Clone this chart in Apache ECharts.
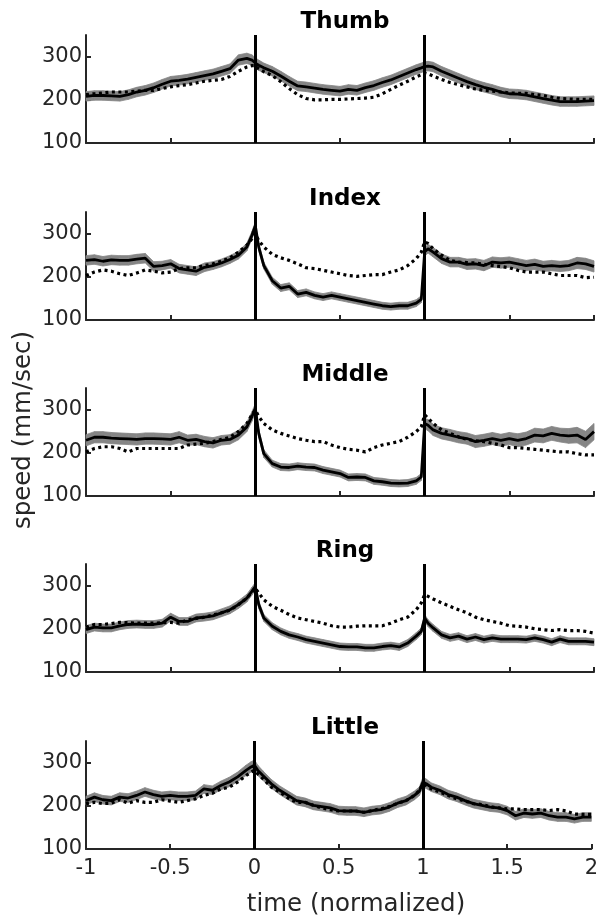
<!DOCTYPE html>
<html>
<head>
<meta charset="utf-8">
<script src="https://cdn.jsdelivr.net/npm/echarts@6/dist/echarts.min.js"></script>
<style>
html,body{margin:0;padding:0;background:#fff;}
#chart{width:601px;height:920px;}
</style>
</head>
<body>
<div id="chart"></div>
<script>
// ---- data ----
const fingers = ['Thumb', 'Index', 'Middle', 'Ring', 'Little'];
const times = [-1,-0.95,-0.9,-0.85,-0.8,-0.75,-0.7,-0.65,-0.6,-0.55,-0.5,-0.45,-0.4,-0.35,-0.3,-0.25,-0.2,-0.15,-0.1,-0.05,
  -0.02,0,0.02,
  0.05,0.1,0.15,0.2,0.25,0.3,0.35,0.4,0.45,0.5,0.55,0.6,0.65,0.7,0.75,0.8,0.85,0.9,0.95,
  0.98,1,1.02,
  1.05,1.1,1.15,1.2,1.25,1.3,1.35,1.4,1.45,1.5,1.55,1.6,1.65,1.7,1.75,1.8,1.85,1.9,1.95,2];
const xTicks = [-1, -0.5, 0, 0.5, 1, 1.5, 2];
const yTicks = [100, 200, 300];
const eventTimes = [0, 1];

const thumbMean = [208,210,210,209,208,212,218,222,228,236,243,245,248,252,256,260,266,272,292,296,
  292,285,280,
  274,266,255,243,232,230,227,224,222,220,224,222,228,233,240,246,254,262,270,
  274,277,278,
  276,266,258,250,242,235,229,224,218,214,213,211,207,203,199,196,196,196,197,198];
const thumbDot = [212,214,216,218,218,218,220,222,222,226,230,233,235,239,243,245,247,254,266,276,
  279,279,272,
  265,256,242,226,212,203,200,200,201,201,202,203,204,206,214,224,234,243,253,
  258,262,260,
  255,247,240,235,230,225,222,220,218,216,215,215,212,210,206,203,202,201,201,201];
const thumbSE = [11,11,11,11,11,11,11,11,11,11,11,11,11,11,11,11,11,11,12,12,
  12,12,12,
  11,11,11,11,11,11,11,11,11,11,11,11,11,11,11,11,11,11,11,
  11,11,11,
  11,11,11,11,11,11,11,11,11,11,11,11,11,11,11,11,11,11,11,11];

const indexMean = [238,240,236,239,238,238,241,243,224,226,230,219,216,213,222,226,232,240,250,269,
  296,318,269,
  226,191,174,178,160,164,157,153,157,153,149,145,141,137,133,131,133,133,139,
  148,258,265,
  257,242,234,234,229,230,226,234,232,234,230,226,229,224,226,224,226,232,230,224];
const indexDot = [203,211,216,213,207,203,209,216,213,209,211,219,221,221,226,230,236,244,257,273,
  288,300,284,
  269,252,244,238,230,221,219,215,211,207,203,201,203,205,205,211,216,226,242,
  257,281,277,
  265,250,238,234,233,232,229,226,224,221,215,211,211,211,207,203,203,203,198,199];
const indexSE = [11,11,11,11,11,11,11,11,11,10,10,10,10,10,10,9,9,9,9,9,
  9,9,9,
  8,8,8,8,8,8,8,8,8,8,8,8,8,8,8,8,8,8,8,
  8,10,10,
  11,11,11,11,12,12,12,12,12,12,12,12,12,12,12,12,12,13,13,13];

const middleMean = [229,236,236,234,233,232,231,233,233,232,231,236,229,231,226,223,229,231,241,260,
  284,303,245,
  198,175,167,166,169,167,166,160,156,152,143,144,143,135,133,130,129,130,135,
  144,268,264,
  253,245,241,236,233,226,229,233,229,233,229,233,241,239,245,241,239,241,231,249];
const middleDot = [202,210,214,214,210,202,210,210,210,210,210,210,218,220,222,226,231,236,249,268,
  288,299,284,
  268,253,245,239,233,229,226,226,218,212,208,206,202,212,218,222,226,236,249,
  260,288,280,
  268,253,245,237,231,228,226,222,218,212,212,210,208,206,204,202,202,198,195,195];
const middleSE = [13,13,13,13,13,13,13,13,13,13,13,13,12,12,12,12,11,11,11,11,
  11,11,10,
  9,8,8,8,8,8,8,8,8,8,8,8,8,8,8,8,8,8,8,
  8,12,13,
  13,13,13,13,13,14,14,14,14,14,15,15,16,16,16,16,17,18,19,19];

const ringMean = [198,204,202,202,207,210,211,210,210,213,227,217,217,225,227,230,237,244,256,271,
  287,298,256,
  225,206,194,186,181,175,171,167,163,159,158,158,156,156,159,161,158,167,183,
  194,225,213,
  202,186,179,183,176,181,175,179,176,176,176,175,179,175,169,176,171,171,171,169];
const ringDot = [204,210,210,212,215,214,213,213,213,214,215,213,221,224,227,232,237,243,256,271,
  285,294,283,
  267,252,243,233,225,221,217,213,207,204,204,206,207,207,207,213,221,227,244,
  260,279,275,
  269,260,252,244,237,227,221,217,213,207,206,204,200,198,196,198,196,196,194,190];
const ringSE = [9,9,9,9,9,9,9,9,9,9,9,9,9,9,9,9,9,9,9,9,
  9,9,9,
  8,8,8,8,8,8,8,8,8,8,8,8,8,8,8,8,8,8,8,
  8,8,8,
  8,8,8,8,8,8,8,8,8,8,8,8,8,8,8,8,8,8,8,8];

const littleMean = [212,220,214,212,220,218,224,232,226,222,224,222,222,224,239,236,247,255,267,282,
  290,294,282,
  270,251,236,224,212,208,201,198,195,189,188,188,185,189,191,197,206,212,224,
  234,255,251,
  243,236,226,220,212,205,201,197,195,189,177,183,181,183,177,174,174,170,174,174];
const littleDot = [205,208,205,206,214,206,212,208,208,214,211,208,212,216,224,229,239,243,255,270,
  278,282,274,
  263,243,232,218,208,208,201,195,191,188,188,188,185,189,193,198,206,212,224,
  236,251,247,
  239,232,224,216,211,205,203,198,195,193,193,191,191,191,189,191,188,181,180,180];
const littleSE = [10,10,10,10,10,10,10,10,10,10,10,10,10,10,10,10,10,11,11,12,
  12,12,12,
  11,10,10,10,10,10,10,10,10,10,10,10,10,10,10,10,10,10,10,
  10,11,11,
  10,10,10,10,10,10,10,10,10,10,10,10,10,10,10,10,10,10,10,10];

const means = [thumbMean, indexMean, middleMean, ringMean, littleMean];
const dots = [thumbDot, indexDot, middleDot, ringDot, littleDot];
const ses = [thumbSE, indexSE, middleSE, ringSE, littleSE];

// ---- layout ----
const gridTops = [35, 212, 388, 564, 741];
const gridH = 108;
const FONT = 'DejaVu Sans';
const AXIS_COLOR = '#262626';
const BAND_COLOR = '#858585';

const chart = echarts.init(document.getElementById('chart'), null, {renderer: 'canvas'});

// band: each item draws the quad between point k and point k+1
function bandRenderer(params, api) {
  const k = params.dataIndex;
  if (k >= times.length - 1) return null;
  const t0 = api.value(0), lo0 = api.value(1), hi0 = api.value(2);
  const t1 = api.value(0, k + 1), lo1 = api.value(1, k + 1), hi1 = api.value(2, k + 1);
  const pts = [
    api.coord([t0, lo0]), api.coord([t1, lo1]),
    api.coord([t1, hi1]), api.coord([t0, hi0])
  ];
  return {
    type: 'polygon',
    shape: {points: pts},
    style: {fill: BAND_COLOR, stroke: BAND_COLOR, lineWidth: 0.8},
    silent: true
  };
}

const grids = [], xAxes = [], yAxes = [], series = [], titles = [];
fingers.forEach((name, i) => {
  grids.push({left: 86, right: 7, top: gridTops[i], height: gridH});
  titles.push({
    text: name, left: 340, top: gridTops[i] - 29, textAlign: 'center',
    textStyle: {fontFamily: FONT, fontSize: 23, fontWeight: 'bold', color: '#000'}
  });
  const last = i === fingers.length - 1;
  xAxes.push({
    gridIndex: i, type: 'value', min: -1, max: 2, interval: 0.5,
    axisLine: {show: true, onZero: false, lineStyle: {color: AXIS_COLOR, width: 2}},
    axisTick: {show: true, inside: true, length: 5, lineStyle: {color: AXIS_COLOR, width: 2}, customValues: xTicks},
    axisLabel: {show: last, margin: 9, fontFamily: FONT, fontSize: 21, color: '#262626', customValues: xTicks,
      formatter: v => String(v)},
    splitLine: {show: false}
  });
  yAxes.push({
    gridIndex: i, type: 'value', min: 100, max: 350, interval: 100,
    axisLine: {show: true, onZero: false, lineStyle: {color: AXIS_COLOR, width: 2}},
    axisTick: {show: true, inside: true, length: 5, lineStyle: {color: AXIS_COLOR, width: 2}, customValues: yTicks},
    axisLabel: {show: true, margin: 4, fontFamily: FONT, fontSize: 21, color: '#262626', customValues: yTicks},
    splitLine: {show: false}
  });
  const m = means[i], d = dots[i], s = ses[i];
  series.push({
    type: 'custom', xAxisIndex: i, yAxisIndex: i,
    data: times.map((t, k) => [t, m[k] - s[k], m[k] + s[k]]),
    encode: {x: 0, y: [1, 2]},
    renderItem: bandRenderer, silent: true, z: 1
  });
  series.push({
    type: 'line', xAxisIndex: i, yAxisIndex: i, data: times.map((t, k) => [t, d[k]]),
    symbol: 'none', lineStyle: {color: '#000', width: 3.2, type: [3, 3.5], cap: 'butt'}, silent: true, z: 3
  });
  series.push({
    type: 'line', xAxisIndex: i, yAxisIndex: i, data: times.map((t, k) => [t, m[k]]),
    symbol: 'none', lineStyle: {color: '#000', width: 2.8}, silent: true, z: 4,
    markLine: {
      silent: true, symbol: ['none', 'none'], animation: false,
      label: {show: false},
      lineStyle: {color: '#000', width: 3, type: 'solid'},
      emphasis: {disabled: true},
      data: eventTimes.map(t => ({xAxis: t}))
    }
  });
});

chart.setOption({
  animation: false,
  backgroundColor: '#fff',
  title: titles,
  grid: grids,
  xAxis: xAxes,
  yAxis: yAxes,
  series: series,
  graphic: [
    {type: 'text', x: 24, y: 430, rotation: Math.PI / 2,
      style: {text: 'speed (mm/sec)', font: '24.5px "DejaVu Sans"', fill: '#262626', align: 'center', verticalAlign: 'middle'}},
    {type: 'text', x: 356, y: 905,
      style: {text: 'time (normalized)', font: '24.5px "DejaVu Sans"', fill: '#262626', align: 'center', verticalAlign: 'middle'}}
  ]
});
</script>
</body>
</html>
